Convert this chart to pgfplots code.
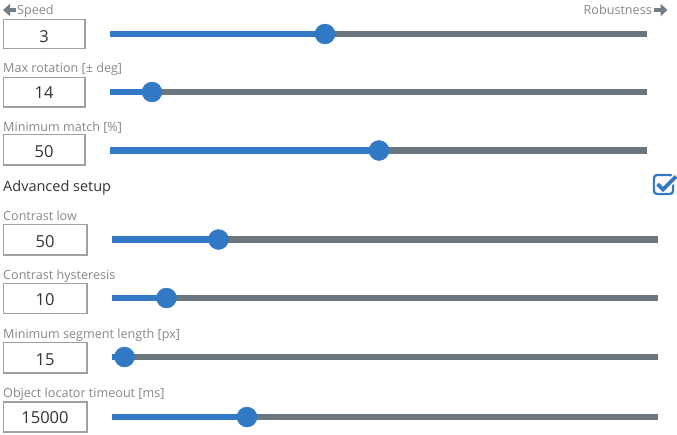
\documentclass[border=0pt]{standalone}
\usepackage{pgfplots}
\pgfplotsset{compat=1.18}
\usepackage{fontspec}
\setmainfont{Open Sans}
\usetikzlibrary{arrows.meta}
\definecolor{sblue}{HTML}{3179C5}
\definecolor{sgrey}{HTML}{6B767E}
\definecolor{lblgrey}{HTML}{878787}
\definecolor{boxgrey}{HTML}{A0A0A0}
\definecolor{valtext}{HTML}{333333}
\definecolor{arrgrey}{HTML}{737E88}
\tikzset{
  trackb/.style={sblue, line width=6.5pt},
  trackg/.style={sgrey, line width=6.5pt},
  thumb/.style={only marks, mark=*, mark size=10pt, sblue, mark options={draw=sblue, fill=sblue}},
  lbl/.style={anchor=base west, lblgrey, font=\fontsize{12.6}{14}\selectfont, inner sep=0pt},
  val/.style={anchor=base, valtext, font=\fontsize{16.5}{19}\selectfont, inner sep=0pt},
  box/.style={boxgrey, line width=1.2pt},
}
\begin{document}
\begin{tikzpicture}
\begin{axis}[scale only axis, width=677pt, height=434pt,
  xmin=0, xmax=677, ymin=0, ymax=434, y dir=reverse,
  hide axis, clip=false,
]
\coordinate (BL) at (axis cs:0,434);
\coordinate (TR) at (axis cs:677,0);

% header
\draw[arrgrey, line width=3.5pt, -{Triangle[length=7pt,width=12pt]}] (axis cs:15.5,10) -- (axis cs:3,10);
\node[lbl] at (axis cs:17,14) {Speed};
\node[anchor=base east, lblgrey, font=\fontsize{12.6}{14}\selectfont, inner sep=0pt] at (axis cs:652,14) {Robustness};
\draw[arrgrey, line width=3.5pt, -{Triangle[length=7pt,width=12pt]}] (axis cs:654,10) -- (axis cs:667.5,10);

% row 1
\draw[box] (axis cs:3.5,19.5) rectangle (axis cs:85,48.5);
\node[val] at (axis cs:44,42) {3};
\addplot[trackg, no marks] coordinates {(325,34) (647,34)};
\addplot[trackb, no marks] coordinates {(110,34) (325,34)};
\addplot[thumb] coordinates {(325,34)};

% row 2
\node[lbl] at (axis cs:3,72.5) {Max rotation [± deg]};
\draw[box] (axis cs:3.5,77.5) rectangle (axis cs:85,107);
\node[val] at (axis cs:44,98.5) {14};
\addplot[trackg, no marks] coordinates {(152,92) (647,92)};
\addplot[trackb, no marks] coordinates {(110,92) (152,92)};
\addplot[thumb] coordinates {(152,92)};

% row 3
\node[lbl] at (axis cs:3,131.5) {Minimum match [\%]};
\draw[box] (axis cs:3.5,134.5) rectangle (axis cs:85,165);
\node[val] at (axis cs:44,157) {50};
\addplot[trackg, no marks] coordinates {(379,150.5) (647,150.5)};
\addplot[trackb, no marks] coordinates {(110,150.5) (379,150.5)};
\addplot[thumb] coordinates {(379,150.5)};

% advanced setup
\node[anchor=base west, valtext, font=\fontsize{14.5}{17}\selectfont, inner sep=0pt] at (axis cs:3,191) {Advanced setup};
\draw[sblue, line width=2.3pt, rounded corners=3pt] (axis cs:654,175) rectangle (axis cs:673,194);
\draw[white, line width=7pt, line cap=round, line join=round] (axis cs:658,184.5) -- (axis cs:663,189.5) -- (axis cs:675.5,177);
\draw[sblue, line width=3.8pt, line join=miter] (axis cs:657.5,184) -- (axis cs:663,189.5) -- (axis cs:676,176.5);

% row 4
\node[lbl] at (axis cs:3,220.5) {Contrast low};
\draw[box] (axis cs:3.5,224.5) rectangle (axis cs:87,255);
\node[val] at (axis cs:45,247) {50};
\addplot[trackg, no marks] coordinates {(218.5,239.5) (658,239.5)};
\addplot[trackb, no marks] coordinates {(112,239.5) (218.5,239.5)};
\addplot[thumb] coordinates {(218.5,239.5)};

% row 5
\node[lbl] at (axis cs:3,279.5) {Contrast hysteresis};
\draw[box] (axis cs:3.5,283.5) rectangle (axis cs:87,313.5);
\node[val] at (axis cs:45,305.5) {10};
\addplot[trackg, no marks] coordinates {(166.5,298) (658,298)};
\addplot[trackb, no marks] coordinates {(112,298) (166.5,298)};
\addplot[thumb] coordinates {(166.5,298)};

% row 6
\node[lbl] at (axis cs:3,338.5) {Minimum segment length [px]};
\draw[box] (axis cs:3.5,342.5) rectangle (axis cs:87,373);
\node[val] at (axis cs:45,365) {15};
\addplot[trackg, no marks] coordinates {(124.5,357) (658,357)};
\addplot[trackb, no marks] coordinates {(112,357) (124.5,357)};
\addplot[thumb] coordinates {(124.5,357)};

% row 7
\node[lbl] at (axis cs:3,397.5) {Object locator timeout [ms]};
\draw[box] (axis cs:3.5,402) rectangle (axis cs:87,432);
\node[val] at (axis cs:45,423.5) {15000};
\addplot[trackg, no marks] coordinates {(247,417) (658,417)};
\addplot[trackb, no marks] coordinates {(112,417) (247,417)};
\addplot[thumb] coordinates {(247,417)};
\end{axis}
\pgfresetboundingbox
\path (BL) rectangle (TR);
\end{tikzpicture}
\end{document}
